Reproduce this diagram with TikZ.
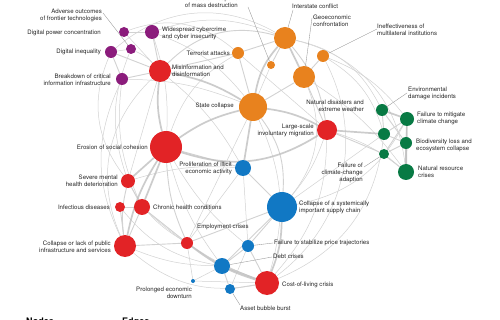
\documentclass[tikz,border=0pt]{standalone}
\usepackage{fontspec}
\setmainfont{TeX Gyre Heros}
\definecolor{cpur}{RGB}{139,28,124}
\definecolor{cred}{RGB}{226,35,38}
\definecolor{cora}{RGB}{232,130,30}
\definecolor{cgre}{RGB}{8,122,68}
\definecolor{cblu}{RGB}{17,120,196}
\definecolor{egray}{RGB}{210,210,210}
\definecolor{tgray}{RGB}{192,192,192}
\definecolor{lgray}{RGB}{150,150,150}
\pgfdeclarelayer{bg}
\pgfsetlayers{bg,main}
\tikzset{
  nd/.style={circle,inner sep=0pt,minimum size=#1},
  pu/.style={nd=#1,fill=cpur},
  re/.style={nd=#1,fill=cred},
  orn/.style={nd=#1,fill=cora},
  gr/.style={nd=#1,fill=cgre},
  bl/.style={nd=#1,fill=cblu},
  lab/.style={inner sep=0pt,font=\fontsize{6.1}{7}\selectfont,text=black!85},
  labl/.style={lab,anchor=west,align=left},
  labr/.style={lab,anchor=east,align=right},
  ed/.style={draw=egray,line width=0.5pt},
  edm/.style={draw=egray,line width=0.9pt},
  edt/.style={draw=tgray,line width=1.7pt,opacity=0.8},
  lead/.style={draw=lgray,line width=0.35pt},
  head/.style={inner sep=0pt,anchor=base west,font=\fontsize{9}{10}\bfseries\selectfont}
}
\begin{document}
\begin{tikzpicture}[x=1pt,y=-1pt]
\useasboundingbox (0,0) rectangle (500,320);
\begin{pgfonlayer}{bg}
\fill[white] (0,0) rectangle (500,320);
\end{pgfonlayer}
% nodes
\node[pu=10pt] (adv) at (131,49) {};
\node[pu=10pt] (dpc) at (124,32) {};
\node[pu=14pt] (cyb) at (152,32) {};
\node[pu=12pt] (dig) at (111,52) {};
\node[pu=12pt] (bci) at (122,79) {};
\node[re=22pt] (mis) at (160,71) {};
\node[re=32pt] (ero) at (166,147) {};
\node[re=14pt] (smh) at (128,181) {};
\node[re=10pt] (inf) at (120,207) {};
\node[re=16pt] (chr) at (142,207) {};
\node[re=22pt] (cpi) at (125,246) {};
\node[re=12pt] (emp) at (187,243) {};
\node[re=24pt] (col) at (267,283) {};
\node[re=20pt] (mig) at (327,130) {};
\node[orn=22pt] (ist) at (285,38) {};
\node[orn=12pt] (ter) at (238,53) {};
\node[orn=8pt] (wmd) at (271,65) {};
\node[orn=22pt] (geo) at (304,77) {};
\node[orn=12pt] (ine) at (323,56) {};
\node[orn=28pt] (sta) at (253,107) {};
\node[gr=12pt] (env) at (382,110) {};
\node[gr=14pt] (mit) at (407,119) {};
\node[gr=12pt] (nat) at (384,134) {};
\node[gr=12pt] (bio) at (406,143) {};
\node[gr=10pt] (ada) at (384,154) {};
\node[gr=16pt] (nrc) at (406,172) {};
\node[bl=16pt] (ill) at (243,168) {};
\node[bl=30pt] (sup) at (282,207) {};
\node[bl=12pt] (pri) at (248,246) {};
\node[bl=16pt] (dbt) at (222,266) {};
\node[bl=10pt] (abb) at (230,289) {};
\node[bl=4pt] (ped) at (193,281) {};
\begin{pgfonlayer}{bg}
% light long arcs
\draw[ed] (ine) to[bend left=40] (col);
\draw[ed] (ist) to[bend left=35] (nrc);
\draw[ed] (geo) to[bend left=30] (sup);
\draw[ed] (dig) to[bend left=35] (ist);
\draw[ed] (dpc) to[bend left=30] (ter);
\draw[ed] (bci) to[bend right=25] (cpi);
\draw[ed] (bci) to[bend right=15] (chr);
\draw[ed] (adv) to[bend right=20] (smh);
\draw[ed] (nat) to[bend left=30] (col);
\draw[ed] (mit) to[bend left=25] (sup);
\draw[ed] (cpi) to[bend right=25] (col);
\draw[ed] (inf) to[bend right=20] (dbt);
\draw[ed] (smh) to[bend right=15] (emp);
\draw[ed] (ero) to[bend right=10] (pri);
\draw[ed] (ero) to[bend right=10] (dbt);
\draw[ed] (sta) to[bend left=20] (col);
\draw[ed] (ill) to (pri);
\draw[ed] (ill) to (emp);
\draw[ed] (mig) to[bend left=10] (sup);
\draw[ed] (nat) to (sup);
\draw[ed] (cyb) to[bend left=10] (ero);
\draw[ed] (cyb) to[bend left=15] (sta);
\draw[ed] (bci) to[bend left=10] (sta);
\draw[ed] (mis) to (smh);
\draw[ed] (mis) to[bend left=10] (ill);
\draw[ed] (ter) to[bend right=20] (ero);
\draw[ed] (sta) to (emp);
\draw[ed] (geo) to[bend left=10] (nrc);
\draw[ed] (ine) to[bend left=15] (mit);
\draw[ed] (mig) to[bend left=10] (nrc);
\draw[ed] (chr) to[bend right=10] (col);
\draw[ed] (cpi) to[bend right=10] (dbt);
\draw[ed] (ped) to (dbt);
\draw[ed] (ped) to (col);
\draw[ed] (ped) to (emp);
\draw[ed] (abb) to (pri);
\draw[ed] (smh) to[bend left=10] (ill);
\draw[ed] (cyb) to[bend left=20] (ist);
\draw[ed] (adv) to[bend left=10] (mis);
\draw[ed] (dpc) to (mis);
\draw[ed] (dig) to (adv);
\draw[ed] (dpc) to (cyb);
\draw[ed] (mis) to[bend right=35] (cpi);
\draw[ed] (dig) to[bend right=30] (smh);
\draw[ed] (ine) to[bend left=20] (nat);
\draw[ed] (ist) to[bend left=25] (env);
\draw[ed] (mig) to[bend left=20] (col);
\draw[ed] (wmd) to (sta);
\draw[ed] (ter) to (mig);
% medium edges
\draw[edm] (cyb) to (mis);
\draw[edm] (bci) to (mis);
\draw[edm] (dig) to (mis);
\draw[edm] (dig) to (bci);
\draw[edm] (mis) to[bend left=30] (ist);
\draw[edm] (ter) to (ist);
\draw[edm] (wmd) to (ist);
\draw[edm] (ter) to (sta);
\draw[edm] (geo) to (sta);
\draw[edm] (ine) to (geo);
\draw[edm] (geo) to (mig);
\draw[edm] (ist) to[bend left=15] (mig);
\draw[edm] (nat) to (env);
\draw[edm] (nat) to (mit);
\draw[edm] (nat) to (bio);
\draw[edm] (ada) to (bio);
\draw[edm] (ada) to (nrc);
\draw[edm] (env) to (bio);
\draw[edm] (mit) to (bio);
\draw[edm] (ada) to (mit);
\draw[edm] (mig) to (ada);
\draw[edm] (sup) to (pri);
\draw[edm] (pri) to (col);
\draw[edm] (pri) to (dbt);
\draw[edm] (dbt) to (abb);
\draw[edm] (abb) to (col);
\draw[edm] (emp) to (dbt);
\draw[edm] (emp) to (sup);
\draw[edm] (emp) to[bend left=10] (ero);
\draw[edm] (smh) to (chr);
\draw[edm] (inf) to (chr);
\draw[edm] (chr) to (cpi);
\draw[edm] (inf) to (cpi);
\draw[edm] (smh) to[bend right=10] (cpi);
\draw[edm] (cpi) to (emp);
\draw[edm] (chr) to (emp);
\draw[edm] (ill) to (sup);
\draw[edm] (sta) to[bend left=20] (sup);
\draw[edm] (sup) to (dbt);
\draw[edm] (ero) to (ill);
\draw[edm] (mis) to (ter);
% thick edges
\draw[edt] (mis) to[bend right=10] (ero);
\draw[edt] (ero) to[bend left=10] (sta);
\draw[edt] (sta) to[bend left=15] (ist);
\draw[edt] (sta) to[bend left=10] (mig);
\draw[edt] (ero) to[bend right=25] (mig);
\draw[edt] (ero) to (chr);
\draw[edt] (ero) to (smh);
\draw[edt] (ero) to[bend right=10] (cpi);
\draw[edt] (sup) to[bend left=10] (col);
\draw[edt] (dbt) to (col);
\draw[edt] (emp) to[bend right=10] (col);
\draw[edt] (mit) to (nrc);
\draw[edt] (bio) to (nrc);
\draw[edt] (mit) to (env);
\draw[edt] (mig) to (nat);
\draw[edt] (mis) to[bend left=10] (sta);
\draw[edt] (ist) to (geo);
\draw[edt] (sta) to (ill);
\end{pgfonlayer}
% leader lines
\coordinate (k-adv) at (103,13);
\coordinate (k-wmd) at (248,7);
\coordinate (k-ist) at (293,10);
\coordinate (k-geo) at (312,18);
\coordinate (k-ine) at (377,29);
\coordinate (k-env) at (407,93);
\coordinate (k-ada) at (364,167);
\coordinate (k-pri) at (273,243);
\coordinate (k-dbt) at (272,257);
\coordinate (k-abb) at (240,305);
\begin{pgfonlayer}{bg}
\draw[lead] (k-adv) -- (adv);
\draw[lead] (k-wmd) -- (wmd);
\draw[lead] (k-ist) -- (ist);
\draw[lead] (k-geo) -- (geo);
\draw[lead] (k-ine) -- (ine);
\draw[lead] (k-env) -- (env);
\draw[lead] (k-ada) -- (ada);
\draw[lead] (k-pri) -- (pri);
\draw[lead] (k-dbt) -- (dbt);
\draw[lead] (k-abb) -- (abb);
\end{pgfonlayer}
% labels
\node[labr] (l-adv) at (102,15) {Adverse outcomes\\of frontier technologies};
\node[labr] (l-dpc) at (101,33) {Digital power concentration};
\node[labr] (l-dig) at (101,52) {Digital inequality};
\node[labr] (l-bci) at (111,80) {Breakdown of critical\\information infrastructure};
\node[labl] (l-cyb) at (162,33) {Widespread cybercrime\\and cyber insecurity};
\node[labl] (l-mis) at (172,71) {Misinformation and\\disinformation};
\node[labr] (l-wmd) at (238,2) {Use of weapons\\of mass destruction};
\node[labr] (l-ter) at (230,53) {Terrorist attacks};
\node[labl] (l-ist) at (292,6) {Interstate conflict};
\node[labl] (l-geo) at (313,21) {Geoeconomic\\confrontation};
\node[labl] (l-ine) at (377,30) {Ineffectiveness of\\multilateral institutions};
\node[labr] (l-sta) at (234,106) {State collapse};
\node[labl] (l-env) at (408,93) {Environmental\\damage incidents};
\node[labr] (l-nat) at (364,106) {Natural disasters and\\extreme weather};
\node[labr] (l-mig) at (314,130) {Large-scale\\involuntary migration};
\node[labl] (l-mit) at (417,118) {Failure to mitigate\\climate change};
\node[labl] (l-bio) at (416,145) {Biodiversity loss and\\ecosystem collapse};
\node[labl] (l-nrc) at (418,172) {Natural resource\\crises};
\node[labr] (l-ada) at (363,173) {Failure of\\climate-change\\adaption};
\node[labr] (l-ero) at (148,147) {Erosion of social cohesion};
\node[labr] (l-smh) at (118,181) {Severe mental\\health deterioration};
\node[labr] (l-inf) at (110,207) {Infectious diseases};
\node[labl] (l-chr) at (153,207) {Chronic health conditions};
\node[labr] (l-ill) at (232,168) {Proliferation of illicit\\economic activity};
\node[labl] (l-sup) at (299,207) {Collapse of a systemically\\important supply chain};
\node[labr] (l-cpi) at (111,247) {Collapse or lack of public\\infrastructure and services};
\node[labl] (l-emp) at (197,227) {Employment crises};
\node[labl] (l-pri) at (274,243) {Failure to stabilize price trajectories};
\node[labl] (l-dbt) at (273,256) {Debt crises};
\node[labl] (l-col) at (282,285) {Cost-of-living crisis};
\node[labl] (l-abb) at (240,308) {Asset bubble burst};
\node[labr] (l-ped) at (192,293) {Prolonged economic\\downturn};
\node[head] (h-nod) at (26,324) {Nodes};
\node[head] (h-edg) at (122,324) {Edges};
\end{tikzpicture}
\end{document}
